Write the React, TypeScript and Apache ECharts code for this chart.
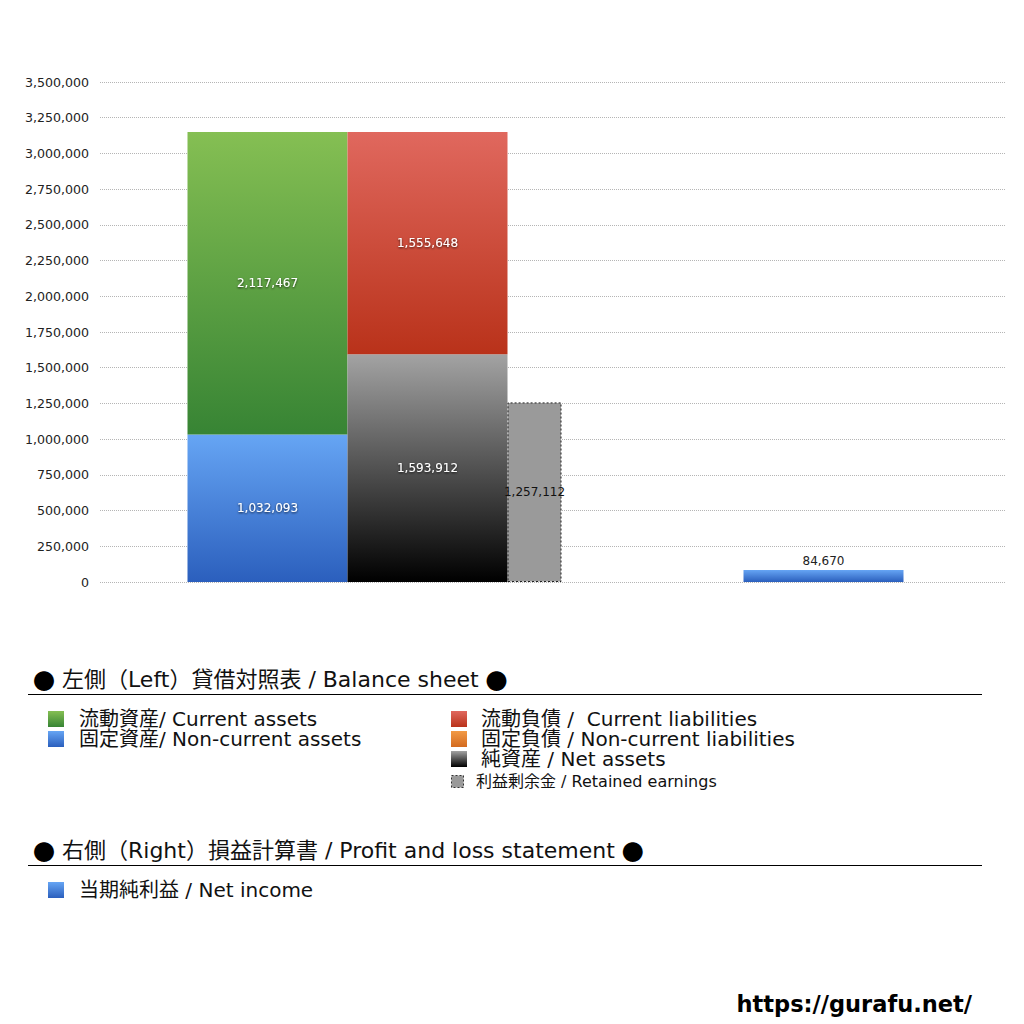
import React, { useEffect, useRef } from "react";
import * as echarts from "echarts";

// Balance sheet (left) and P/L (right)
const categories = ["貸借対照表", "損益計算書"];
const nonCurrentAssets = [1032093, "-"];
const currentAssets = [2117467, "-"];
const netAssets = [1593912, "-"];
const nonCurrentLiabilities = [0, "-"];
const currentLiabilities = [1555648, "-"];
const retainedEarnings = [1257112, "-"];
const netIncome = ["-", 84670];

const yTicks = { min: 0, max: 3500000, interval: 250000 };

const leftLegend = ["流動資産/ Current assets", "固定資産/ Non-current assets"];
const rightLegend = ["流動負債 /  Current liabilities", "固定負債 / Non-current liabilities", "純資産 / Net assets"];
const retainedLegend = "利益剰余金 / Retained earnings";
const plLegend = ["当期純利益 / Net income"];
const title1 = "{d|●} 左側（Left）貸借対照表 / Balance sheet {d|●}";
const title2 = "{d|●} 右側（Right）損益計算書 / Profit and loss statement {d|●}";
const footer = "https://gurafu.net/";

const FONT = '"DejaVu Sans", "Noto Sans CJK JP", sans-serif';
const CJK = '"Noto Sans CJK JP", sans-serif';

const grad = (top: string, bottom: string) =>
    new echarts.graphic.LinearGradient(0, 0, 0, 1, [
        { offset: 0, color: top },
        { offset: 1, color: bottom },
    ]);

const GREEN = ["#85bf53", "#378434"];
const BLUE = ["#66a5f4", "#2b5fbd"];
const RED = ["#e0685e", "#b9321a"];
const ORANGE = ["#f29a45", "#d36a1f"];
const BLACK = ["#a3a3a3", "#000000"];

const fmt = (v: number) => v.toLocaleString("en-US");

const whiteLabel = {
    show: true,
    position: "inside",
    color: "#ffffff",
    fontSize: 12,
    fontFamily: FONT,
    textShadowColor: "rgba(0,0,0,0.75)",
    textShadowBlur: 2,
    textShadowOffsetY: 1,
    formatter: (p: any) => (p.value ? fmt(p.value) : ""),
};

export default function App() {
    const chartRef = useRef<HTMLDivElement>(null);

    useEffect(() => {
        if (!chartRef.current) return;
        const chart = echarts.init(chartRef.current, undefined, { renderer: "svg" });

        const graphics: any[] = [];
        const text = (x: number, y: number, t: string, size: number, extra: any = {}) =>
            graphics.push({
                type: "text",
                x,
                y,
                style: {
                    text: t,
                    fill: "#111",
                    font: `${size}px ${FONT}`,
                    verticalAlign: "middle",
                    ...extra,
                },
            });
        const swatch = (x: number, y: number, size: number, fill: any, extra: any = {}) =>
            graphics.push({
                type: "rect",
                shape: { x, y, width: size, height: size },
                style: { fill, ...extra },
            });
        const rule = (y: number) =>
            graphics.push({
                type: "line",
                shape: { x1: 28, y1: y, x2: 982, y2: y },
                style: { stroke: "#000", lineWidth: 1 },
            });
        const titleRich = { d: { fontFamily: CJK, fontSize: 22, fill: "#000" } };

        // section 1
        text(33, 679, title1, 22, { rich: titleRich });
        rule(694.5);
        const leftCols = [GREEN, BLUE];
        leftLegend.forEach((_, i) => swatch(48, 711 + i * 20, 16, grad(leftCols[i][0], leftCols[i][1])));
        text(79, 709, leftLegend.join("\n"), 20, { verticalAlign: "top", lineHeight: 20 });
        const rightCols = [RED, ORANGE, BLACK];
        rightLegend.forEach((_, i) => swatch(451, 711 + i * 20, 16, grad(rightCols[i][0], rightCols[i][1])));
        text(481, 709, rightLegend.join("\n"), 20, { verticalAlign: "top", lineHeight: 20 });
        swatch(451.5, 775.5, 12, "#9a9a9a", { stroke: "#333", lineWidth: 1, lineDash: [2, 2] });
        text(476, 781, retainedLegend, 16);

        // section 2
        text(33, 850, title2, 22, { rich: titleRich });
        rule(865.5);
        plLegend.forEach((name, i) => {
            swatch(48, 882 + i * 20, 16, grad(BLUE[0], BLUE[1]));
            text(79, 890 + i * 20, name, 20);
        });

        text(972, 1004, footer, 22.5, {
            font: `bold 22.5px "DejaVu Sans", sans-serif`,
            align: "right",
            fill: "#000",
        });

        const option: any = {
            animation: false,
            backgroundColor: "#ffffff",
            grid: [
                { left: 100, right: 19, top: 82, height: 500 },
                { left: 150, top: 82, width: 898, height: 500, outerBoundsMode: "none", containLabel: false },
            ],
            xAxis: [
                { type: "category", gridIndex: 0, data: categories, show: false },
                { type: "category", gridIndex: 1, data: categories, show: false },
                { type: "category", gridIndex: 1, data: categories, show: false },
            ],
            yAxis: [
                {
                    type: "value",
                    gridIndex: 0,
                    ...yTicks,
                    axisLine: { show: false },
                    axisTick: { show: false },
                    axisLabel: {
                        color: "#222",
                        fontSize: 12.6,
                        fontFamily: FONT,
                        margin: 11,
                        formatter: (v: number) => fmt(v),
                    },
                    splitLine: { lineStyle: { color: "#b5b5b5", type: "dotted", width: 1 } },
                },
                { type: "value", gridIndex: 1, ...yTicks, show: false, splitLine: { show: false } },
            ],
            series: [
                {
                    name: "固定資産",
                    type: "bar",
                    xAxisIndex: 1,
                    yAxisIndex: 1,
                    stack: "assets",
                    barWidth: 160,
                    barGap: "0%",
                    data: nonCurrentAssets,
                    itemStyle: { color: grad(BLUE[0], BLUE[1]) },
                    label: whiteLabel,
                },
                {
                    name: "流動資産",
                    type: "bar",
                    xAxisIndex: 1,
                    yAxisIndex: 1,
                    stack: "assets",
                    barWidth: 160,
                    barGap: "0%",
                    data: currentAssets,
                    itemStyle: { color: grad(GREEN[0], GREEN[1]) },
                    label: whiteLabel,
                },
                {
                    name: "純資産",
                    type: "bar",
                    xAxisIndex: 1,
                    yAxisIndex: 1,
                    stack: "liabilities",
                    barWidth: 160,
                    barGap: "0%",
                    data: netAssets,
                    itemStyle: { color: grad(BLACK[0], BLACK[1]) },
                    label: whiteLabel,
                },
                {
                    name: "固定負債",
                    type: "bar",
                    xAxisIndex: 1,
                    yAxisIndex: 1,
                    stack: "liabilities",
                    barWidth: 160,
                    barGap: "0%",
                    data: nonCurrentLiabilities,
                    itemStyle: { color: grad(ORANGE[0], ORANGE[1]) },
                    label: whiteLabel,
                },
                {
                    name: "流動負債",
                    type: "bar",
                    xAxisIndex: 1,
                    yAxisIndex: 1,
                    stack: "liabilities",
                    barWidth: 160,
                    barGap: "0%",
                    data: currentLiabilities,
                    itemStyle: { color: grad(RED[0], RED[1]) },
                    label: whiteLabel,
                },
                {
                    name: "利益剰余金",
                    type: "bar",
                    xAxisIndex: 1,
                    yAxisIndex: 1,
                    barWidth: 54,
                    barGap: "0%",
                    data: retainedEarnings,
                    itemStyle: {
                        color: "#9a9a9a",
                        borderColor: "#222",
                        borderWidth: 1,
                        borderType: [2, 2],
                    },
                    label: {
                        show: true,
                        position: "inside",
                        color: "#111",
                        fontSize: 12,
                        fontFamily: FONT,
                        formatter: (p: any) => fmt(p.value),
                    },
                },
                {
                    name: "当期純利益",
                    type: "bar",
                    xAxisIndex: 2,
                    yAxisIndex: 1,
                    barWidth: 160,
                    data: netIncome,
                    itemStyle: { color: grad(BLUE[0], BLUE[1]) },
                    label: {
                        show: true,
                        position: "top",
                        distance: 3,
                        color: "#222",
                        fontSize: 12,
                        fontFamily: FONT,
                        formatter: (p: any) => fmt(p.value),
                    },
                },
            ],
            graphic: graphics,
        };

        chart.setOption(option);
        return () => chart.dispose();
    }, []);

    return (
        <div
            ref={chartRef}
            style={{ position: "fixed", left: 0, top: 0, width: 1024, height: 1024, background: "#fff" }}
        />
    );
}
